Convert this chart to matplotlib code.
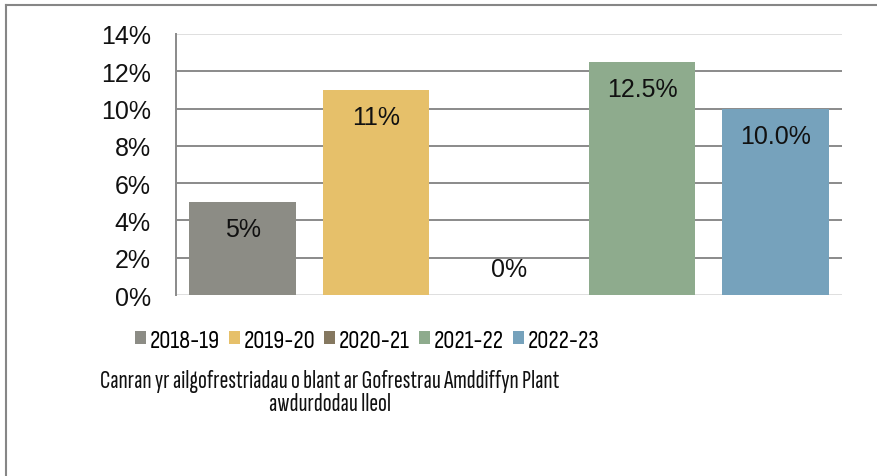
import matplotlib.pyplot as plt
from matplotlib.lines import Line2D
from matplotlib.ticker import PercentFormatter

years = ['2018-19', '2019-20', '2020-21', '2021-22', '2022-23']
rates = [5.0, 11.0, 0.0, 12.5, 10.0]
rate_labels = ['5%', '11%', '0%', '12.5%', '10.0%']
colours = ['#8C8C85', '#E6C06A', '#857860', '#8EAB8D', '#76A2BC']
title = 'Canran yr ailgofrestriadau o blant ar Gofrestrau Amddiffyn Plant\nawdurdodau lleol'

plt.rcParams['font.family'] = ['Liberation Sans', 'DejaVu Sans']
legend_font = ['Sofia Sans Condensed', 'Archivo Narrow', 'DejaVu Sans']
title_font = ['Sofia Sans Extra Condensed', 'Archivo Narrow', 'DejaVu Sans']

fig = plt.figure(figsize=(8.78, 4.77), dpi=100)
ax = fig.add_axes([176 / 878, 1 - 296 / 477, (842 - 176) / 878, (296 - 35) / 477])

bars = []
for i, (yr, v, c) in enumerate(zip(years, rates, colours)):
    b = ax.bar(i, v, width=0.8, color=c, label=yr, zorder=3)
    bars.append(b)
    # labels sit just inside the bar end; a zero bar gets its label above the baseline
    off = -19.5 if v > 0 else 19
    ax.annotate(rate_labels[i], (i, v), xytext=(0, off), textcoords='offset points',
                ha='center', va='center', fontsize=18, color='#111111', zorder=4)

ax.set_xlim(-0.5, 4.5)
ax.set_ylim(0, 14)
ax.set_yticks(range(0, 15, 2))
ax.yaxis.set_major_formatter(PercentFormatter(decimals=0))
ax.set_xticks([])
ax.tick_params(axis='y', length=0, pad=18, labelsize=18, labelcolor='#111111')

for y in range(2, 13, 2):
    ax.axhline(y, color='#8A8A8A', lw=1.4, zorder=1)
ax.axhline(14, color='#D9D9D9', lw=1.2, zorder=1)
ax.axhline(0, color='#D9D9D9', lw=1.2, zorder=1)
for s in ['top', 'right', 'bottom']:
    ax.spines[s].set_visible(False)
ax.spines['left'].set_color('#8A8A8A')
ax.spines['left'].set_linewidth(1.4)

fig.legend(handles=[b[0] for b in bars], labels=years, loc='center',
           bbox_to_anchor=(367 / 878, 1 - 341 / 477), ncol=5, frameon=False,
           prop={'family': legend_font, 'size': 18}, handlelength=0.45, handleheight=0.45,
           handletextpad=0.15, columnspacing=0.35, borderpad=0)

fig.text(330 / 878, 1 - 393 / 477, title, ha='center', va='center', multialignment='center',
         family=title_font, fontsize=19, fontweight='semibold', linespacing=0.95, color='#111111')

# figure frame (left and top edges visible)
fig.add_artist(Line2D([6 / 878, 6 / 878], [0, 1 - 6 / 477], transform=fig.transFigure,
                      color='#868686', lw=1.5))
fig.add_artist(Line2D([6 / 878, 1], [1 - 6 / 477, 1 - 6 / 477], transform=fig.transFigure,
                      color='#868686', lw=1.5))

fig.savefig('out.png', dpi=100)
